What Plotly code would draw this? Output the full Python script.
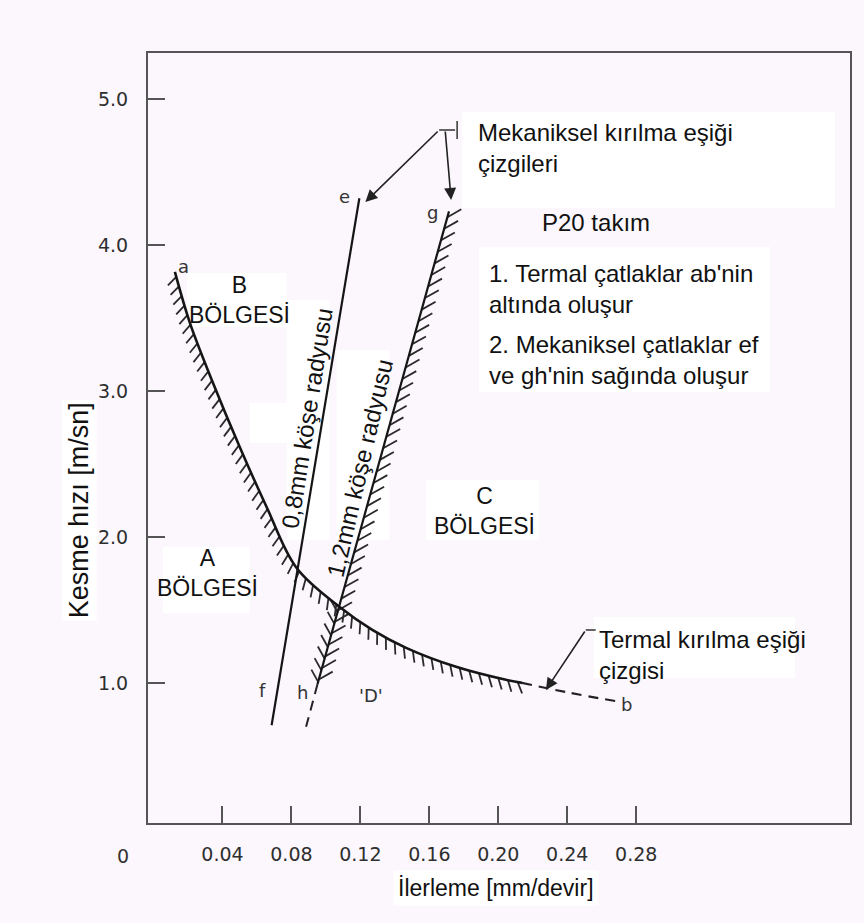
import math
import plotly.graph_objects as go

# ---------------- data ----------------
# thermal fracture threshold line a-b (solid part) and its dashed extension
ab_feed = [0.0124, 0.0211, 0.0338, 0.0500, 0.0656, 0.0829, 0.1078, 0.1269, 0.1465, 0.1755, 0.2044, 0.2137]
ab_speed = [3.815, 3.466, 3.075, 2.616, 2.205, 1.788, 1.521, 1.363, 1.240, 1.110, 1.021, 1.000]
ab_ext_feed = [0.2137, 0.2400, 0.2680]
ab_ext_speed = [1.000, 0.935, 0.875]

# mechanical fracture threshold lines
ef_feed = [0.1194, 0.0685]          # 0.8 mm corner radius
ef_speed = [4.32, 0.71]
gh_feed = [0.1714, 0.0951]          # 1.2 mm corner radius
gh_speed = [4.23, 0.99]
gh_ext_feed = [0.0951, 0.0876]
gh_ext_speed = [0.99, 0.66]

x_tick_vals = [0.04, 0.08, 0.12, 0.16, 0.20, 0.24, 0.28]
x_tick_text = ["0.04", "0.08", "0.12", "0.16", "0.20", "0.24", "0.28"]
y_tick_vals = [1, 2, 3, 4, 5]
y_tick_text = ["1.0", "2.0", "3.0", "4.0", "5.0"]

# ---------------- geometry helpers ----------------
W, H = 864, 923
L, R, T, B = 148, 852, 53, 823
XR = [-0.0032, 0.404]
YR = [0.04, 5.315]
SX = (R - L) / (XR[1] - XR[0])
SY = (B - T) / (YR[1] - YR[0])
BG = "#fbf7fc"
INK = "#151515"


def to_px(x, y):
    return L + (x - XR[0]) * SX, B - (y - YR[0]) * SY


def to_data(px, py):
    return XR[0] + (px - L) / SX, YR[0] + (B - py) / SY


def to_paper(px, py):
    return (px - L) / (R - L), (B - py) / (B - T)


def catmull(pts, n=14):
    out = []
    for i in range(len(pts) - 1):
        p0 = pts[i - 1] if i > 0 else pts[i]
        p1, p2 = pts[i], pts[i + 1]
        p3 = pts[i + 2] if i + 2 < len(pts) else pts[i + 1]
        for k in range(n):
            t = k / n
            t2, t3 = t * t, t * t * t
            out.append(tuple(
                0.5 * (2 * p1[j] + (-p0[j] + p2[j]) * t
                       + (2 * p0[j] - 5 * p1[j] + 4 * p2[j] - p3[j]) * t2
                       + (-p0[j] + 3 * p1[j] - 3 * p2[j] + p3[j]) * t3)
                for j in range(2)))
    out.append(pts[-1])
    return out


def hatch(xs, ys, side, lean_deg, length, spacing, smooth=True):
    pts = [to_px(x, y) for x, y in zip(xs, ys)]
    dense = catmull(pts) if smooth and len(pts) > 2 else pts
    segs = []
    tot = 0.0
    for i in range(len(dense) - 1):
        (x0, y0), (x1, y1) = dense[i], dense[i + 1]
        d = math.hypot(x1 - x0, y1 - y0)
        if d > 0:
            segs.append((tot, d, x0, y0, x1, y1))
            tot += d
    hx, hy = [], []
    lean = math.radians(lean_deg)
    s = spacing / 2
    while s < tot:
        for (s0, d, x0, y0, x1, y1) in segs:
            if s0 <= s <= s0 + d:
                f = (s - s0) / d
                px, py = x0 + f * (x1 - x0), y0 + f * (y1 - y0)
                tx, ty = (x1 - x0) / d, (y1 - y0) / d
                nx, ny = side * -ty, side * tx
                dx = math.cos(lean) * nx + math.sin(lean) * tx
                dy = math.cos(lean) * ny + math.sin(lean) * ty
                a = to_data(px, py)
                b = to_data(px + length * dx, py + length * dy)
                hx += [a[0], b[0], None]
                hy += [a[1], b[1], None]
                break
        s += spacing
    return hx, hy


fig = go.Figure()

# background white boxes (pixel rects)
boxes = [
    (463, 112, 837, 208), (480, 247, 772, 392), (595, 617, 797, 678),
    (163, 547, 250, 613), (427, 480, 540, 540), (187, 273, 287, 327),
    (287, 300, 330, 540), (250, 403, 287, 443), (337, 350, 390, 540),
]
for (x0, y0, x1, y1) in boxes:
    a = to_data(x0, y1)
    b = to_data(x1, y0)
    fig.add_shape(type="rect", xref="x", yref="y", x0=a[0], y0=a[1], x1=b[0], y1=b[1],
                  fillcolor="white", line=dict(width=0), layer="below")

# hatching
HATCH = dict(color="#2a2a2a", width=1.8)
hx, hy = hatch(ab_feed, ab_speed, +1, 30, 12, 10)
fig.add_trace(go.Scatter(x=hx, y=hy, mode="lines", line=HATCH, hoverinfo="skip", showlegend=False))
hx, hy = hatch(gh_feed, gh_speed, -1, -45, 16, 12, smooth=False)
fig.add_trace(go.Scatter(x=hx, y=hy, mode="lines", line=HATCH, hoverinfo="skip", showlegend=False))
# left side of g-h below its crossing with a-b (fishbone look)
hx, hy = hatch([ab_feed[6], gh_feed[1]], [ab_speed[6], gh_speed[1]], +1, -45, 14, 12, smooth=False)
fig.add_trace(go.Scatter(x=hx, y=hy, mode="lines", line=HATCH, hoverinfo="skip", showlegend=False))

# main lines
fig.add_trace(go.Scatter(x=ab_feed, y=ab_speed, mode="lines",
                         line=dict(color=INK, width=2.6, shape="spline"), showlegend=False))
fig.add_trace(go.Scatter(x=ab_ext_feed, y=ab_ext_speed, mode="lines",
                         line=dict(color="#222", width=2.2, dash="10px,7px", shape="spline"), showlegend=False))
fig.add_trace(go.Scatter(x=ef_feed, y=ef_speed, mode="lines",
                         line=dict(color=INK, width=2.2), showlegend=False))
fig.add_trace(go.Scatter(x=gh_feed, y=gh_speed, mode="lines",
                         line=dict(color=INK, width=2.2), showlegend=False))
fig.add_trace(go.Scatter(x=gh_ext_feed, y=gh_ext_speed, mode="lines",
                         line=dict(color="#222", width=2.0, dash="10px,7px"), showlegend=False))

ann = []
SANS = "Liberation Sans, Arial, sans-serif"
ROUND = "DejaVu Sans, sans-serif"


def text_at(px, py, text, size=24, xanchor="center", font=SANS, color="#111", angle=0,
            align="center", bg=None, pad=1):
    x, y = to_paper(px, py)
    d = dict(x=x, y=y, xref="paper", yref="paper", text=text, showarrow=False,
             xanchor=xanchor, yanchor="middle", align=align, textangle=angle,
             font=dict(family=font, size=size, color=color), borderpad=pad)
    if bg:
        d["bgcolor"] = bg
    ann.append(d)


# point letters
for (px, py, t) in [(184, 266, "a"), (628, 704, "b"), (345, 196, "e"), (263, 690, "f"),
                    (433, 212, "g"), (303, 692, "h"), (372, 695, "'D'")]:
    text_at(px, py, t, size=18, font=ROUND, color="#333")

text_at(240, 300, "B<br>BÖLGESİ", 23)
text_at(208, 573, "A<br>BÖLGESİ", 23)
text_at(485, 511, "C<br>BÖLGESİ", 23)
text_at(307, 418, "0,8mm köşe radyusu", 24, angle=-81)
text_at(360, 468, "1,2mm köşe radyusu", 24, angle=-77)
text_at(597, 223, "P20 takım", 24)
text_at(477, 148, "Mekaniksel kırılma eşiği<br>çizgileri", 24, xanchor="left", align="left")
text_at(488, 289, "1. Termal çatlaklar ab'nin<br>altında oluşur", 24, xanchor="left", align="left")
text_at(488, 360, "2. Mekaniksel çatlaklar ef<br>ve gh'nin sağında oluşur", 24, xanchor="left", align="left")
text_at(598, 655, "Termal kırılma eşiği<br>çizgisi", 24, xanchor="left", align="left")

# "0" origin label
text_at(123, 856, "0", 19, font=ROUND, color="#333")

# axis titles
text_at(497, 888, "İlerleme [mm/devir]", 23, bg="white", pad=4)
text_at(79, 510, "Kesme hızı [m/sn]", 27, angle=-90, bg="white", pad=2)


def arrow(tail, head):
    hx_, hy_ = to_data(*head)
    tx_, ty_ = to_data(*tail)
    ann.append(dict(x=hx_, y=hy_, ax=tx_, ay=ty_, xref="x", yref="y", axref="x", ayref="y",
                    text="", showarrow=True, arrowhead=2, arrowsize=1.5, arrowwidth=1.6,
                    arrowcolor="#222"))


arrow((440, 130), (366, 202))
arrow((446, 130), (452, 200))
arrow((587, 630), (547, 690))

for (x0, y0, x1, y1) in [(440, 130, 456, 130), (458, 121, 458, 139), (587, 630, 597, 630)]:
    a = to_data(x0, y0)
    b = to_data(x1, y1)
    fig.add_shape(type="line", xref="x", yref="y", x0=a[0], y0=a[1], x1=b[0], y1=b[1],
                  line=dict(color="#333", width=1.5))

fig.update_layout(
    width=W, height=H,
    margin=dict(l=L, r=W - R, t=T, b=H - B),
    paper_bgcolor=BG, plot_bgcolor=BG,
    annotations=ann,
    showlegend=False,
)
fig.update_xaxes(range=XR, showgrid=False, zeroline=False, showline=True, mirror=True,
                 linecolor="#555", linewidth=2, ticks="inside", ticklen=17, tickwidth=1.5,
                 tickcolor="#555", tickvals=x_tick_vals, ticktext=x_tick_text,
                 tickfont=dict(family=ROUND, size=19, color="#2e2e2e"), ticklabelstandoff=13)
fig.update_yaxes(range=YR, showgrid=False, zeroline=False, showline=True, mirror=True,
                 linecolor="#555", linewidth=2, ticks="inside", ticklen=17, tickwidth=1.5,
                 tickcolor="#555", tickvals=y_tick_vals, ticktext=y_tick_text,
                 tickfont=dict(family=ROUND, size=19, color="#2e2e2e"), ticklabelstandoff=14)

fig.write_html("out.html", config={"displayModeBar": False},
               post_script="document.body.style.margin='0';document.body.style.background='%s';" % BG)
